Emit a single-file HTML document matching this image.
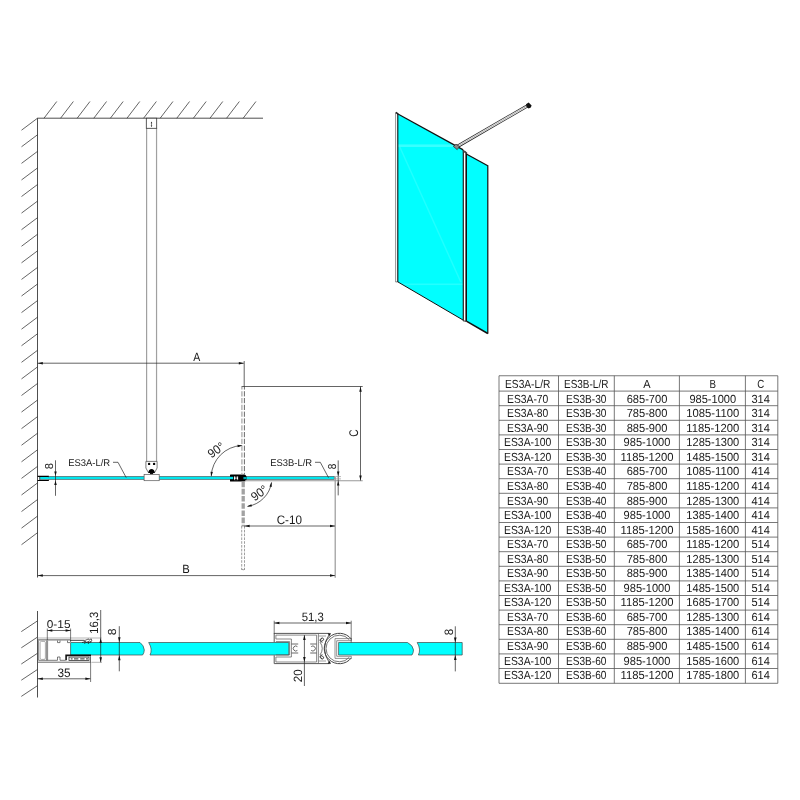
<!DOCTYPE html>
<html lang="en"><head><meta charset="utf-8"><title>ES3A / ES3B technical drawing</title>
<style>
html,body{margin:0;padding:0;background:#fff;}
body{width:800px;height:800px;overflow:hidden;}
svg{display:block;font-family:"Liberation Sans",sans-serif;will-change:transform;opacity:0.999;text-rendering:geometricPrecision;}
</style></head><body>
<svg width="800" height="800" viewBox="0 0 800 800">
<rect width="800" height="800" fill="#fff"/>
<g id="topview">
<line x1="37.50" y1="118.20" x2="263.00" y2="118.20" stroke="#222" stroke-width="0.8"/>
<line x1="37.50" y1="118.20" x2="37.50" y2="577.50" stroke="#222" stroke-width="0.8"/>
<line x1="44.00" y1="118.20" x2="56.75" y2="101.50" stroke="#222" stroke-width="0.7"/>
<line x1="60.60" y1="118.20" x2="73.35" y2="101.50" stroke="#222" stroke-width="0.7"/>
<line x1="77.20" y1="118.20" x2="89.95" y2="101.50" stroke="#222" stroke-width="0.7"/>
<line x1="93.80" y1="118.20" x2="106.55" y2="101.50" stroke="#222" stroke-width="0.7"/>
<line x1="110.40" y1="118.20" x2="123.15" y2="101.50" stroke="#222" stroke-width="0.7"/>
<line x1="127.00" y1="118.20" x2="139.75" y2="101.50" stroke="#222" stroke-width="0.7"/>
<line x1="143.60" y1="118.20" x2="156.35" y2="101.50" stroke="#222" stroke-width="0.7"/>
<line x1="160.20" y1="118.20" x2="172.95" y2="101.50" stroke="#222" stroke-width="0.7"/>
<line x1="176.80" y1="118.20" x2="189.55" y2="101.50" stroke="#222" stroke-width="0.7"/>
<line x1="193.40" y1="118.20" x2="206.15" y2="101.50" stroke="#222" stroke-width="0.7"/>
<line x1="210.00" y1="118.20" x2="222.75" y2="101.50" stroke="#222" stroke-width="0.7"/>
<line x1="226.60" y1="118.20" x2="239.35" y2="101.50" stroke="#222" stroke-width="0.7"/>
<line x1="243.20" y1="118.20" x2="255.95" y2="101.50" stroke="#222" stroke-width="0.7"/>
<line x1="37.50" y1="118.20" x2="21.50" y2="130.20" stroke="#222" stroke-width="0.7"/>
<line x1="37.50" y1="134.78" x2="21.50" y2="146.78" stroke="#222" stroke-width="0.7"/>
<line x1="37.50" y1="151.36" x2="21.50" y2="163.36" stroke="#222" stroke-width="0.7"/>
<line x1="37.50" y1="167.94" x2="21.50" y2="179.94" stroke="#222" stroke-width="0.7"/>
<line x1="37.50" y1="184.52" x2="21.50" y2="196.52" stroke="#222" stroke-width="0.7"/>
<line x1="37.50" y1="201.10" x2="21.50" y2="213.10" stroke="#222" stroke-width="0.7"/>
<line x1="37.50" y1="217.68" x2="21.50" y2="229.68" stroke="#222" stroke-width="0.7"/>
<line x1="37.50" y1="234.26" x2="21.50" y2="246.26" stroke="#222" stroke-width="0.7"/>
<line x1="37.50" y1="250.84" x2="21.50" y2="262.84" stroke="#222" stroke-width="0.7"/>
<line x1="37.50" y1="267.42" x2="21.50" y2="279.42" stroke="#222" stroke-width="0.7"/>
<line x1="37.50" y1="284.00" x2="21.50" y2="296.00" stroke="#222" stroke-width="0.7"/>
<line x1="37.50" y1="300.58" x2="21.50" y2="312.58" stroke="#222" stroke-width="0.7"/>
<line x1="37.50" y1="317.16" x2="21.50" y2="329.16" stroke="#222" stroke-width="0.7"/>
<line x1="37.50" y1="333.74" x2="21.50" y2="345.74" stroke="#222" stroke-width="0.7"/>
<line x1="37.50" y1="350.32" x2="21.50" y2="362.32" stroke="#222" stroke-width="0.7"/>
<line x1="37.50" y1="366.90" x2="21.50" y2="378.90" stroke="#222" stroke-width="0.7"/>
<line x1="37.50" y1="383.48" x2="21.50" y2="395.48" stroke="#222" stroke-width="0.7"/>
<line x1="37.50" y1="400.06" x2="21.50" y2="412.06" stroke="#222" stroke-width="0.7"/>
<line x1="37.50" y1="416.64" x2="21.50" y2="428.64" stroke="#222" stroke-width="0.7"/>
<line x1="37.50" y1="433.22" x2="21.50" y2="445.22" stroke="#222" stroke-width="0.7"/>
<line x1="37.50" y1="449.80" x2="21.50" y2="461.80" stroke="#222" stroke-width="0.7"/>
<line x1="37.50" y1="466.38" x2="21.50" y2="478.38" stroke="#222" stroke-width="0.7"/>
<line x1="37.50" y1="482.96" x2="21.50" y2="494.96" stroke="#222" stroke-width="0.7"/>
<line x1="37.50" y1="499.54" x2="21.50" y2="511.54" stroke="#222" stroke-width="0.7"/>
<line x1="37.50" y1="516.12" x2="21.50" y2="528.12" stroke="#222" stroke-width="0.7"/>
<line x1="37.50" y1="532.70" x2="21.50" y2="544.70" stroke="#222" stroke-width="0.7"/>
<line x1="146.60" y1="128.00" x2="146.60" y2="461.40" stroke="#a0a0a0" stroke-width="1.2"/>
<line x1="156.55" y1="128.00" x2="156.55" y2="461.40" stroke="#a0a0a0" stroke-width="1.2"/>
<rect x="146.3" y="118.2" width="10.4" height="10.1" fill="#fff" stroke="#333" stroke-width="0.8"/>
<line x1="151.50" y1="122.00" x2="151.50" y2="126.50" stroke="#333" stroke-width="0.6"/>
<polygon points="151.50,121.60 152.30,123.20 150.70,123.20" fill="#333"/>
<polygon points="151.50,127.00 150.70,125.40 152.30,125.40" fill="#333"/>
<path d="M145.9 461.4 H157.1 V468 L154.6 472.6 H148.4 L145.9 468 Z" fill="#fff" stroke="#444" stroke-width="0.7"/>
<circle cx="149.1" cy="463.9" r="1.2" fill="#000"/><circle cx="154.1" cy="463.9" r="1.2" fill="#000"/>
<path d="M148.3 472.9 C148.3 467.6 154.8 467.6 154.8 472.9 Z" fill="#000"/><rect x="150" y="472.6" width="3.1" height="1.6" fill="#111"/>
<rect x="39.5" y="476.45" width="194" height="2.9" fill="#00e6ee" stroke="#4a4a4a" stroke-width="0.6"/>
<rect x="243" y="476.45" width="91.2" height="2.9" fill="#00e6ee" stroke="#4a4a4a" stroke-width="0.6"/>
<path d="M37.6 475.85 H48.9 V477 H37.6 Z M37.6 479.9 H48.9 V481.05 H37.6 Z" fill="#000"/>
<path d="M39.9 477 V479.9 M48.6 476.6 V477.4 M48.6 479.6 V480.4" stroke="#555" stroke-width="0.7" fill="none"/>
<rect x="144.1" y="474.5" width="15.1" height="6.2" fill="#fff" stroke="#555" stroke-width="0.7"/>
<path d="M230.6 474.6 H244 Q246.6 474.6 246.6 478.1 Q246.6 481.6 244 481.6 H230.6 Q230 481.6 230 481 V475.2 Q230 474.6 230.6 474.6 Z" fill="#000"/>
<rect x="230" y="476.8" width="3.2" height="2.4" fill="#00e6ee"/>
<rect x="234" y="476.2" width="4.1" height="3.9" fill="#fff"/>
<path d="M234.6 476.7 H237.5 M234.6 479.6 H237.5 M236.05 476.7 V479.6" stroke="#000" stroke-width="0.9" fill="none"/>
<rect x="243.4" y="477" width="3.2" height="2.2" fill="#00a8b0"/>
<line x1="245.00" y1="480.80" x2="362.70" y2="480.80" stroke="#999" stroke-width="1.1"/>
<line x1="335.20" y1="477.00" x2="335.20" y2="577.70" stroke="#999" stroke-width="1.2"/>
<line x1="241.90" y1="387.00" x2="241.90" y2="474.50" stroke="#aaa" stroke-width="1.3" stroke-dasharray="5.2 1.6" stroke-dashoffset="2.6"/>
<line x1="244.40" y1="387.00" x2="244.40" y2="474.50" stroke="#444" stroke-width="0.8" stroke-dasharray="5.2 1.6" stroke-dashoffset="2.6"/>
<line x1="243.20" y1="481.60" x2="243.20" y2="526.50" stroke="#a2a2a2" stroke-width="3.3" stroke-dasharray="5.6 1.6"/>
<line x1="241.70" y1="526.00" x2="241.70" y2="570.00" stroke="#777" stroke-width="0.7" stroke-dasharray="2.6 1.2"/>
<line x1="244.50" y1="526.00" x2="244.50" y2="570.00" stroke="#777" stroke-width="0.7" stroke-dasharray="2.6 1.2"/>
<path d="M241.7 569 Q243.1 571 244.5 569" fill="none" stroke="#777" stroke-width="0.7"/>
<line x1="37.50" y1="363.20" x2="243.80" y2="363.20" stroke="#222" stroke-width="0.7"/>
<polygon points="243.80,363.20 238.80,364.45 238.80,361.95" fill="#111"/>
<polygon points="37.80,363.20 42.80,361.95 42.80,364.45" fill="#111"/>
<line x1="244.20" y1="361.00" x2="244.20" y2="387.00" stroke="#222" stroke-width="0.7"/>
<text x="193.23" y="360.50" font-size="11.85" textLength="7.04" lengthAdjust="spacingAndGlyphs" fill="#1a1a1a">A</text>
<line x1="241.50" y1="386.50" x2="362.70" y2="386.50" stroke="#222" stroke-width="0.7"/>
<line x1="360.50" y1="386.50" x2="360.50" y2="480.50" stroke="#222" stroke-width="0.7"/>
<polygon points="360.50,386.70 361.75,391.70 359.25,391.70" fill="#111"/>
<polygon points="360.50,480.50 359.25,475.50 361.75,475.50" fill="#111"/>
<text x="357.63" y="436.76" font-size="12.57" textLength="7.30" lengthAdjust="spacingAndGlyphs" fill="#1a1a1a" transform="rotate(-90 357.63 436.76)">C</text>
<line x1="37.50" y1="575.60" x2="335.00" y2="575.60" stroke="#222" stroke-width="0.7"/>
<polygon points="335.00,575.60 330.00,576.85 330.00,574.35" fill="#111"/>
<polygon points="37.80,575.60 42.80,574.35 42.80,576.85" fill="#111"/>
<text x="182.33" y="572.65" font-size="11.85" textLength="7.52" lengthAdjust="spacingAndGlyphs" fill="#1a1a1a">B</text>
<line x1="244.40" y1="526.00" x2="335.00" y2="526.00" stroke="#222" stroke-width="0.7"/>
<polygon points="244.60,526.00 249.60,524.75 249.60,527.25" fill="#111"/>
<polygon points="335.00,526.00 330.00,527.25 330.00,524.75" fill="#111"/>
<text x="276.66" y="523.88" font-size="12.36" textLength="25.30" lengthAdjust="spacingAndGlyphs" fill="#1a1a1a">C-10</text>
<line x1="55.50" y1="460.30" x2="55.50" y2="495.80" stroke="#222" stroke-width="0.7"/>
<polygon points="55.50,476.10 54.25,471.50 56.75,471.50" fill="#111"/>
<polygon points="55.50,480.40 56.75,485.00 54.25,485.00" fill="#111"/>
<text x="52.94" y="469.14" font-size="11.44" textLength="6.28" lengthAdjust="spacingAndGlyphs" fill="#1a1a1a" transform="rotate(-90 52.94 469.14)">8</text>
<line x1="338.20" y1="460.40" x2="338.20" y2="495.40" stroke="#222" stroke-width="0.7"/>
<polygon points="338.20,476.00 336.95,471.40 339.45,471.40" fill="#111"/>
<polygon points="338.20,481.00 339.45,485.60 336.95,485.60" fill="#111"/>
<line x1="334.50" y1="476.60" x2="341.00" y2="476.60" stroke="#888" stroke-width="0.6"/>
<line x1="334.50" y1="478.90" x2="341.00" y2="478.90" stroke="#888" stroke-width="0.6"/>
<text x="335.64" y="469.19" font-size="11.58" textLength="5.57" lengthAdjust="spacingAndGlyphs" fill="#1a1a1a" transform="rotate(-90 335.64 469.19)">8</text>
<text x="68.13" y="465.85" font-size="9.80" textLength="41.96" lengthAdjust="spacingAndGlyphs" fill="#1a1a1a">ES3A-L/R</text>
<polyline points="113,462.3 118,462.3 126.2,477.6" fill="none" stroke="#222" stroke-width="0.7"/>
<text x="270.28" y="465.65" font-size="9.80" textLength="41.91" lengthAdjust="spacingAndGlyphs" fill="#1a1a1a">ES3B-L/R</text>
<polyline points="315,462.3 320.3,462.3 328.5,477.6" fill="none" stroke="#222" stroke-width="0.7"/>
<path d="M211.24 475.83 A32 32 0 0 1 241.53 445.54" fill="none" stroke="#222" stroke-width="0.7"/>
<polygon points="211.21,476.66 210.55,471.77 212.84,472.00" fill="#111"/>
<polygon points="242.36,445.51 237.70,447.14 237.47,444.85" fill="#111"/>
<path d="M271.55 482.49 A28.7 28.7 0 0 1 247.69 506.35" fill="none" stroke="#222" stroke-width="0.7"/>
<polygon points="271.62,481.99 271.68,486.93 269.44,486.42" fill="#111"/>
<polygon points="246.95,506.45 251.39,504.31 251.88,506.56" fill="#111"/>
<text x="211.53" y="458.41" font-size="12.40" textLength="17.44" lengthAdjust="spacingAndGlyphs" fill="#1a1a1a" transform="rotate(-36 211.53 458.41)">90°</text>
<text x="254.73" y="501.61" font-size="12.40" textLength="17.44" lengthAdjust="spacingAndGlyphs" fill="#1a1a1a" transform="rotate(-36 254.73 501.61)">90°</text>
</g>
<g id="iso">
<polygon points="397.5,114 463,149.8 463,320 397.7,281.8" fill="#00ffff"/>
<polygon points="466.8,154.3 487.8,165.8 487.8,333.5 466.8,321.4" fill="#00ffff"/>
<clipPath id="cg1"><polygon points="397.5,114 463,149.8 463,320 397.7,281.8"/></clipPath>
<g clip-path="url(#cg1)"><rect x="397" y="144.4" width="60" height="2.6" fill="#fff" opacity="0.22"/><polygon points="399,147 400.6,147 461.6,282 460,282" fill="#fff" opacity="0.13"/><rect x="397" y="283.5" width="70" height="1.6" fill="#fff" opacity="0.14"/></g>
<rect x="395.5" y="112.6" width="2.1" height="169.3" fill="#fff"/>
<line x1="395.60" y1="112.60" x2="395.60" y2="281.90" stroke="#777" stroke-width="0.8"/>
<line x1="397.80" y1="113.50" x2="397.80" y2="281.90" stroke="#111" stroke-width="1.1"/>
<path d="M395.2 113 L396.6 111.8 L398.4 113.4 L397.6 114.4 Z" fill="#222"/>
<line x1="397.50" y1="113.80" x2="463.20" y2="149.90" stroke="#111" stroke-width="1.3"/>
<line x1="395.60" y1="281.90" x2="397.70" y2="281.90" stroke="#444" stroke-width="0.7"/>
<line x1="397.70" y1="281.80" x2="463.00" y2="320.00" stroke="#111" stroke-width="1.0"/>
<rect x="463" y="150.5" width="3.8" height="170.6" fill="#fff"/>
<line x1="463.30" y1="150.00" x2="463.30" y2="320.80" stroke="#222" stroke-width="1.2"/>
<line x1="466.20" y1="152.50" x2="466.20" y2="321.60" stroke="#111" stroke-width="1.6"/>
<line x1="463.00" y1="320.80" x2="466.80" y2="321.40" stroke="#222" stroke-width="0.9"/>
<path d="M462.8 150 L465.5 151 L467.2 152.8 L467.2 154 L463 152 Z" fill="#444"/>
<line x1="466.80" y1="154.30" x2="487.80" y2="165.80" stroke="#111" stroke-width="1.3"/>
<line x1="487.80" y1="165.30" x2="487.80" y2="333.80" stroke="#111" stroke-width="1.2"/>
<line x1="466.80" y1="321.40" x2="487.80" y2="333.50" stroke="#111" stroke-width="1.5"/>
<line x1="456.90" y1="146.70" x2="527.80" y2="105.60" stroke="#222" stroke-width="3.3"/>
<line x1="457.60" y1="146.30" x2="527.20" y2="105.95" stroke="#fff" stroke-width="1.9"/>
<line x1="457.60" y1="146.30" x2="527.20" y2="105.95" stroke="#555" stroke-width="0.45"/>
<path d="M453.4 146.4 L456 144.2 L459.6 146.6 L457.2 149.6 Z" fill="#8a8a8a" stroke="#222" stroke-width="0.7"/>
<path d="M526 104.2 L528.6 102.4 L531.6 105.4 L530.8 107.4 L528.6 108.4 L526.6 107 Z" fill="#111"/>
</g>
<g id="table">
<line x1="499.00" y1="375.75" x2="777.80" y2="375.75" stroke="#555" stroke-width="0.8"/>
<line x1="499.00" y1="391.10" x2="777.80" y2="391.10" stroke="#555" stroke-width="0.8"/>
<line x1="499.00" y1="405.70" x2="777.80" y2="405.70" stroke="#555" stroke-width="0.8"/>
<line x1="499.00" y1="420.30" x2="777.80" y2="420.30" stroke="#555" stroke-width="0.8"/>
<line x1="499.00" y1="434.90" x2="777.80" y2="434.90" stroke="#555" stroke-width="0.8"/>
<line x1="499.00" y1="449.50" x2="777.80" y2="449.50" stroke="#555" stroke-width="0.8"/>
<line x1="499.00" y1="464.10" x2="777.80" y2="464.10" stroke="#555" stroke-width="0.8"/>
<line x1="499.00" y1="478.70" x2="777.80" y2="478.70" stroke="#555" stroke-width="0.8"/>
<line x1="499.00" y1="493.30" x2="777.80" y2="493.30" stroke="#555" stroke-width="0.8"/>
<line x1="499.00" y1="507.90" x2="777.80" y2="507.90" stroke="#555" stroke-width="0.8"/>
<line x1="499.00" y1="522.50" x2="777.80" y2="522.50" stroke="#555" stroke-width="0.8"/>
<line x1="499.00" y1="537.10" x2="777.80" y2="537.10" stroke="#555" stroke-width="0.8"/>
<line x1="499.00" y1="551.70" x2="777.80" y2="551.70" stroke="#555" stroke-width="0.8"/>
<line x1="499.00" y1="566.30" x2="777.80" y2="566.30" stroke="#555" stroke-width="0.8"/>
<line x1="499.00" y1="580.90" x2="777.80" y2="580.90" stroke="#555" stroke-width="0.8"/>
<line x1="499.00" y1="595.50" x2="777.80" y2="595.50" stroke="#555" stroke-width="0.8"/>
<line x1="499.00" y1="610.10" x2="777.80" y2="610.10" stroke="#555" stroke-width="0.8"/>
<line x1="499.00" y1="624.70" x2="777.80" y2="624.70" stroke="#555" stroke-width="0.8"/>
<line x1="499.00" y1="639.30" x2="777.80" y2="639.30" stroke="#555" stroke-width="0.8"/>
<line x1="499.00" y1="653.90" x2="777.80" y2="653.90" stroke="#555" stroke-width="0.8"/>
<line x1="499.00" y1="668.50" x2="777.80" y2="668.50" stroke="#555" stroke-width="0.8"/>
<line x1="499.00" y1="683.30" x2="777.80" y2="683.30" stroke="#555" stroke-width="0.8"/>
<line x1="499.00" y1="375.75" x2="499.00" y2="683.30" stroke="#555" stroke-width="0.8"/>
<line x1="558.50" y1="375.75" x2="558.50" y2="683.30" stroke="#555" stroke-width="0.8"/>
<line x1="614.30" y1="375.75" x2="614.30" y2="683.30" stroke="#555" stroke-width="0.8"/>
<line x1="679.40" y1="375.75" x2="679.40" y2="683.30" stroke="#555" stroke-width="0.8"/>
<line x1="745.40" y1="375.75" x2="745.40" y2="683.30" stroke="#555" stroke-width="0.8"/>
<line x1="777.80" y1="375.75" x2="777.80" y2="683.30" stroke="#555" stroke-width="0.8"/>
<text x="527.70" y="388.20" font-size="11.76" text-anchor="middle" textLength="45.24" lengthAdjust="spacingAndGlyphs" fill="#1a1a1a">ES3A-L/R</text>
<text x="586.20" y="388.20" font-size="11.76" text-anchor="middle" textLength="44.40" lengthAdjust="spacingAndGlyphs" fill="#1a1a1a">ES3B-L/R</text>
<text x="647.00" y="388.20" font-size="11.76" text-anchor="middle" textLength="7.34" lengthAdjust="spacingAndGlyphs" fill="#1a1a1a">A</text>
<text x="712.80" y="388.20" font-size="11.76" text-anchor="middle" textLength="6.50" lengthAdjust="spacingAndGlyphs" fill="#1a1a1a">B</text>
<text x="760.70" y="388.20" font-size="11.76" text-anchor="middle" textLength="6.96" lengthAdjust="spacingAndGlyphs" fill="#1a1a1a">C</text>
<text x="527.70" y="402.65" font-size="11.76" text-anchor="middle" textLength="41.32" lengthAdjust="spacingAndGlyphs" fill="#1a1a1a">ES3A-70</text>
<text x="586.20" y="402.65" font-size="11.76" text-anchor="middle" textLength="40.48" lengthAdjust="spacingAndGlyphs" fill="#1a1a1a">ES3B-30</text>
<text x="647.00" y="402.65" font-size="11.76" text-anchor="middle" textLength="40.62" lengthAdjust="spacingAndGlyphs" fill="#1a1a1a">685-700</text>
<text x="712.80" y="402.65" font-size="11.76" text-anchor="middle" textLength="46.78" lengthAdjust="spacingAndGlyphs" fill="#1a1a1a">985-1000</text>
<text x="760.70" y="402.65" font-size="11.76" text-anchor="middle" textLength="18.47" lengthAdjust="spacingAndGlyphs" fill="#1a1a1a">314</text>
<text x="527.70" y="417.20" font-size="11.76" text-anchor="middle" textLength="41.32" lengthAdjust="spacingAndGlyphs" fill="#1a1a1a">ES3A-80</text>
<text x="586.20" y="417.20" font-size="11.76" text-anchor="middle" textLength="40.48" lengthAdjust="spacingAndGlyphs" fill="#1a1a1a">ES3B-30</text>
<text x="647.00" y="417.20" font-size="11.76" text-anchor="middle" textLength="40.62" lengthAdjust="spacingAndGlyphs" fill="#1a1a1a">785-800</text>
<text x="712.80" y="417.20" font-size="11.76" text-anchor="middle" textLength="52.93" lengthAdjust="spacingAndGlyphs" fill="#1a1a1a">1085-1100</text>
<text x="760.70" y="417.20" font-size="11.76" text-anchor="middle" textLength="18.47" lengthAdjust="spacingAndGlyphs" fill="#1a1a1a">314</text>
<text x="527.70" y="431.75" font-size="11.76" text-anchor="middle" textLength="41.32" lengthAdjust="spacingAndGlyphs" fill="#1a1a1a">ES3A-90</text>
<text x="586.20" y="431.75" font-size="11.76" text-anchor="middle" textLength="40.48" lengthAdjust="spacingAndGlyphs" fill="#1a1a1a">ES3B-30</text>
<text x="647.00" y="431.75" font-size="11.76" text-anchor="middle" textLength="40.62" lengthAdjust="spacingAndGlyphs" fill="#1a1a1a">885-900</text>
<text x="712.80" y="431.75" font-size="11.76" text-anchor="middle" textLength="52.93" lengthAdjust="spacingAndGlyphs" fill="#1a1a1a">1185-1200</text>
<text x="760.70" y="431.75" font-size="11.76" text-anchor="middle" textLength="18.47" lengthAdjust="spacingAndGlyphs" fill="#1a1a1a">314</text>
<text x="527.70" y="446.30" font-size="11.76" text-anchor="middle" textLength="47.47" lengthAdjust="spacingAndGlyphs" fill="#1a1a1a">ES3A-100</text>
<text x="586.20" y="446.30" font-size="11.76" text-anchor="middle" textLength="40.48" lengthAdjust="spacingAndGlyphs" fill="#1a1a1a">ES3B-30</text>
<text x="647.00" y="446.30" font-size="11.76" text-anchor="middle" textLength="46.78" lengthAdjust="spacingAndGlyphs" fill="#1a1a1a">985-1000</text>
<text x="712.80" y="446.30" font-size="11.76" text-anchor="middle" textLength="52.93" lengthAdjust="spacingAndGlyphs" fill="#1a1a1a">1285-1300</text>
<text x="760.70" y="446.30" font-size="11.76" text-anchor="middle" textLength="18.47" lengthAdjust="spacingAndGlyphs" fill="#1a1a1a">314</text>
<text x="527.70" y="460.85" font-size="11.76" text-anchor="middle" textLength="47.47" lengthAdjust="spacingAndGlyphs" fill="#1a1a1a">ES3A-120</text>
<text x="586.20" y="460.85" font-size="11.76" text-anchor="middle" textLength="40.48" lengthAdjust="spacingAndGlyphs" fill="#1a1a1a">ES3B-30</text>
<text x="647.00" y="460.85" font-size="11.76" text-anchor="middle" textLength="52.93" lengthAdjust="spacingAndGlyphs" fill="#1a1a1a">1185-1200</text>
<text x="712.80" y="460.85" font-size="11.76" text-anchor="middle" textLength="52.93" lengthAdjust="spacingAndGlyphs" fill="#1a1a1a">1485-1500</text>
<text x="760.70" y="460.85" font-size="11.76" text-anchor="middle" textLength="18.47" lengthAdjust="spacingAndGlyphs" fill="#1a1a1a">314</text>
<text x="527.70" y="475.40" font-size="11.76" text-anchor="middle" textLength="41.32" lengthAdjust="spacingAndGlyphs" fill="#1a1a1a">ES3A-70</text>
<text x="586.20" y="475.40" font-size="11.76" text-anchor="middle" textLength="40.48" lengthAdjust="spacingAndGlyphs" fill="#1a1a1a">ES3B-40</text>
<text x="647.00" y="475.40" font-size="11.76" text-anchor="middle" textLength="40.62" lengthAdjust="spacingAndGlyphs" fill="#1a1a1a">685-700</text>
<text x="712.80" y="475.40" font-size="11.76" text-anchor="middle" textLength="52.93" lengthAdjust="spacingAndGlyphs" fill="#1a1a1a">1085-1100</text>
<text x="760.70" y="475.40" font-size="11.76" text-anchor="middle" textLength="18.47" lengthAdjust="spacingAndGlyphs" fill="#1a1a1a">414</text>
<text x="527.70" y="489.95" font-size="11.76" text-anchor="middle" textLength="41.32" lengthAdjust="spacingAndGlyphs" fill="#1a1a1a">ES3A-80</text>
<text x="586.20" y="489.95" font-size="11.76" text-anchor="middle" textLength="40.48" lengthAdjust="spacingAndGlyphs" fill="#1a1a1a">ES3B-40</text>
<text x="647.00" y="489.95" font-size="11.76" text-anchor="middle" textLength="40.62" lengthAdjust="spacingAndGlyphs" fill="#1a1a1a">785-800</text>
<text x="712.80" y="489.95" font-size="11.76" text-anchor="middle" textLength="52.93" lengthAdjust="spacingAndGlyphs" fill="#1a1a1a">1185-1200</text>
<text x="760.70" y="489.95" font-size="11.76" text-anchor="middle" textLength="18.47" lengthAdjust="spacingAndGlyphs" fill="#1a1a1a">414</text>
<text x="527.70" y="504.50" font-size="11.76" text-anchor="middle" textLength="41.32" lengthAdjust="spacingAndGlyphs" fill="#1a1a1a">ES3A-90</text>
<text x="586.20" y="504.50" font-size="11.76" text-anchor="middle" textLength="40.48" lengthAdjust="spacingAndGlyphs" fill="#1a1a1a">ES3B-40</text>
<text x="647.00" y="504.50" font-size="11.76" text-anchor="middle" textLength="40.62" lengthAdjust="spacingAndGlyphs" fill="#1a1a1a">885-900</text>
<text x="712.80" y="504.50" font-size="11.76" text-anchor="middle" textLength="52.93" lengthAdjust="spacingAndGlyphs" fill="#1a1a1a">1285-1300</text>
<text x="760.70" y="504.50" font-size="11.76" text-anchor="middle" textLength="18.47" lengthAdjust="spacingAndGlyphs" fill="#1a1a1a">414</text>
<text x="527.70" y="519.05" font-size="11.76" text-anchor="middle" textLength="47.47" lengthAdjust="spacingAndGlyphs" fill="#1a1a1a">ES3A-100</text>
<text x="586.20" y="519.05" font-size="11.76" text-anchor="middle" textLength="40.48" lengthAdjust="spacingAndGlyphs" fill="#1a1a1a">ES3B-40</text>
<text x="647.00" y="519.05" font-size="11.76" text-anchor="middle" textLength="46.78" lengthAdjust="spacingAndGlyphs" fill="#1a1a1a">985-1000</text>
<text x="712.80" y="519.05" font-size="11.76" text-anchor="middle" textLength="52.93" lengthAdjust="spacingAndGlyphs" fill="#1a1a1a">1385-1400</text>
<text x="760.70" y="519.05" font-size="11.76" text-anchor="middle" textLength="18.47" lengthAdjust="spacingAndGlyphs" fill="#1a1a1a">414</text>
<text x="527.70" y="533.60" font-size="11.76" text-anchor="middle" textLength="47.47" lengthAdjust="spacingAndGlyphs" fill="#1a1a1a">ES3A-120</text>
<text x="586.20" y="533.60" font-size="11.76" text-anchor="middle" textLength="40.48" lengthAdjust="spacingAndGlyphs" fill="#1a1a1a">ES3B-40</text>
<text x="647.00" y="533.60" font-size="11.76" text-anchor="middle" textLength="52.93" lengthAdjust="spacingAndGlyphs" fill="#1a1a1a">1185-1200</text>
<text x="712.80" y="533.60" font-size="11.76" text-anchor="middle" textLength="52.93" lengthAdjust="spacingAndGlyphs" fill="#1a1a1a">1585-1600</text>
<text x="760.70" y="533.60" font-size="11.76" text-anchor="middle" textLength="18.47" lengthAdjust="spacingAndGlyphs" fill="#1a1a1a">414</text>
<text x="527.70" y="548.15" font-size="11.76" text-anchor="middle" textLength="41.32" lengthAdjust="spacingAndGlyphs" fill="#1a1a1a">ES3A-70</text>
<text x="586.20" y="548.15" font-size="11.76" text-anchor="middle" textLength="40.48" lengthAdjust="spacingAndGlyphs" fill="#1a1a1a">ES3B-50</text>
<text x="647.00" y="548.15" font-size="11.76" text-anchor="middle" textLength="40.62" lengthAdjust="spacingAndGlyphs" fill="#1a1a1a">685-700</text>
<text x="712.80" y="548.15" font-size="11.76" text-anchor="middle" textLength="52.93" lengthAdjust="spacingAndGlyphs" fill="#1a1a1a">1185-1200</text>
<text x="760.70" y="548.15" font-size="11.76" text-anchor="middle" textLength="18.47" lengthAdjust="spacingAndGlyphs" fill="#1a1a1a">514</text>
<text x="527.70" y="562.70" font-size="11.76" text-anchor="middle" textLength="41.32" lengthAdjust="spacingAndGlyphs" fill="#1a1a1a">ES3A-80</text>
<text x="586.20" y="562.70" font-size="11.76" text-anchor="middle" textLength="40.48" lengthAdjust="spacingAndGlyphs" fill="#1a1a1a">ES3B-50</text>
<text x="647.00" y="562.70" font-size="11.76" text-anchor="middle" textLength="40.62" lengthAdjust="spacingAndGlyphs" fill="#1a1a1a">785-800</text>
<text x="712.80" y="562.70" font-size="11.76" text-anchor="middle" textLength="52.93" lengthAdjust="spacingAndGlyphs" fill="#1a1a1a">1285-1300</text>
<text x="760.70" y="562.70" font-size="11.76" text-anchor="middle" textLength="18.47" lengthAdjust="spacingAndGlyphs" fill="#1a1a1a">514</text>
<text x="527.70" y="577.25" font-size="11.76" text-anchor="middle" textLength="41.32" lengthAdjust="spacingAndGlyphs" fill="#1a1a1a">ES3A-90</text>
<text x="586.20" y="577.25" font-size="11.76" text-anchor="middle" textLength="40.48" lengthAdjust="spacingAndGlyphs" fill="#1a1a1a">ES3B-50</text>
<text x="647.00" y="577.25" font-size="11.76" text-anchor="middle" textLength="40.62" lengthAdjust="spacingAndGlyphs" fill="#1a1a1a">885-900</text>
<text x="712.80" y="577.25" font-size="11.76" text-anchor="middle" textLength="52.93" lengthAdjust="spacingAndGlyphs" fill="#1a1a1a">1385-1400</text>
<text x="760.70" y="577.25" font-size="11.76" text-anchor="middle" textLength="18.47" lengthAdjust="spacingAndGlyphs" fill="#1a1a1a">514</text>
<text x="527.70" y="591.80" font-size="11.76" text-anchor="middle" textLength="47.47" lengthAdjust="spacingAndGlyphs" fill="#1a1a1a">ES3A-100</text>
<text x="586.20" y="591.80" font-size="11.76" text-anchor="middle" textLength="40.48" lengthAdjust="spacingAndGlyphs" fill="#1a1a1a">ES3B-50</text>
<text x="647.00" y="591.80" font-size="11.76" text-anchor="middle" textLength="46.78" lengthAdjust="spacingAndGlyphs" fill="#1a1a1a">985-1000</text>
<text x="712.80" y="591.80" font-size="11.76" text-anchor="middle" textLength="52.93" lengthAdjust="spacingAndGlyphs" fill="#1a1a1a">1485-1500</text>
<text x="760.70" y="591.80" font-size="11.76" text-anchor="middle" textLength="18.47" lengthAdjust="spacingAndGlyphs" fill="#1a1a1a">514</text>
<text x="527.70" y="606.35" font-size="11.76" text-anchor="middle" textLength="47.47" lengthAdjust="spacingAndGlyphs" fill="#1a1a1a">ES3A-120</text>
<text x="586.20" y="606.35" font-size="11.76" text-anchor="middle" textLength="40.48" lengthAdjust="spacingAndGlyphs" fill="#1a1a1a">ES3B-50</text>
<text x="647.00" y="606.35" font-size="11.76" text-anchor="middle" textLength="52.93" lengthAdjust="spacingAndGlyphs" fill="#1a1a1a">1185-1200</text>
<text x="712.80" y="606.35" font-size="11.76" text-anchor="middle" textLength="52.93" lengthAdjust="spacingAndGlyphs" fill="#1a1a1a">1685-1700</text>
<text x="760.70" y="606.35" font-size="11.76" text-anchor="middle" textLength="18.47" lengthAdjust="spacingAndGlyphs" fill="#1a1a1a">514</text>
<text x="527.70" y="620.90" font-size="11.76" text-anchor="middle" textLength="41.32" lengthAdjust="spacingAndGlyphs" fill="#1a1a1a">ES3A-70</text>
<text x="586.20" y="620.90" font-size="11.76" text-anchor="middle" textLength="40.48" lengthAdjust="spacingAndGlyphs" fill="#1a1a1a">ES3B-60</text>
<text x="647.00" y="620.90" font-size="11.76" text-anchor="middle" textLength="40.62" lengthAdjust="spacingAndGlyphs" fill="#1a1a1a">685-700</text>
<text x="712.80" y="620.90" font-size="11.76" text-anchor="middle" textLength="52.93" lengthAdjust="spacingAndGlyphs" fill="#1a1a1a">1285-1300</text>
<text x="760.70" y="620.90" font-size="11.76" text-anchor="middle" textLength="18.47" lengthAdjust="spacingAndGlyphs" fill="#1a1a1a">614</text>
<text x="527.70" y="635.45" font-size="11.76" text-anchor="middle" textLength="41.32" lengthAdjust="spacingAndGlyphs" fill="#1a1a1a">ES3A-80</text>
<text x="586.20" y="635.45" font-size="11.76" text-anchor="middle" textLength="40.48" lengthAdjust="spacingAndGlyphs" fill="#1a1a1a">ES3B-60</text>
<text x="647.00" y="635.45" font-size="11.76" text-anchor="middle" textLength="40.62" lengthAdjust="spacingAndGlyphs" fill="#1a1a1a">785-800</text>
<text x="712.80" y="635.45" font-size="11.76" text-anchor="middle" textLength="52.93" lengthAdjust="spacingAndGlyphs" fill="#1a1a1a">1385-1400</text>
<text x="760.70" y="635.45" font-size="11.76" text-anchor="middle" textLength="18.47" lengthAdjust="spacingAndGlyphs" fill="#1a1a1a">614</text>
<text x="527.70" y="650.00" font-size="11.76" text-anchor="middle" textLength="41.32" lengthAdjust="spacingAndGlyphs" fill="#1a1a1a">ES3A-90</text>
<text x="586.20" y="650.00" font-size="11.76" text-anchor="middle" textLength="40.48" lengthAdjust="spacingAndGlyphs" fill="#1a1a1a">ES3B-60</text>
<text x="647.00" y="650.00" font-size="11.76" text-anchor="middle" textLength="40.62" lengthAdjust="spacingAndGlyphs" fill="#1a1a1a">885-900</text>
<text x="712.80" y="650.00" font-size="11.76" text-anchor="middle" textLength="52.93" lengthAdjust="spacingAndGlyphs" fill="#1a1a1a">1485-1500</text>
<text x="760.70" y="650.00" font-size="11.76" text-anchor="middle" textLength="18.47" lengthAdjust="spacingAndGlyphs" fill="#1a1a1a">614</text>
<text x="527.70" y="664.55" font-size="11.76" text-anchor="middle" textLength="47.47" lengthAdjust="spacingAndGlyphs" fill="#1a1a1a">ES3A-100</text>
<text x="586.20" y="664.55" font-size="11.76" text-anchor="middle" textLength="40.48" lengthAdjust="spacingAndGlyphs" fill="#1a1a1a">ES3B-60</text>
<text x="647.00" y="664.55" font-size="11.76" text-anchor="middle" textLength="46.78" lengthAdjust="spacingAndGlyphs" fill="#1a1a1a">985-1000</text>
<text x="712.80" y="664.55" font-size="11.76" text-anchor="middle" textLength="52.93" lengthAdjust="spacingAndGlyphs" fill="#1a1a1a">1585-1600</text>
<text x="760.70" y="664.55" font-size="11.76" text-anchor="middle" textLength="18.47" lengthAdjust="spacingAndGlyphs" fill="#1a1a1a">614</text>
<text x="527.70" y="679.10" font-size="11.76" text-anchor="middle" textLength="47.47" lengthAdjust="spacingAndGlyphs" fill="#1a1a1a">ES3A-120</text>
<text x="586.20" y="679.10" font-size="11.76" text-anchor="middle" textLength="40.48" lengthAdjust="spacingAndGlyphs" fill="#1a1a1a">ES3B-60</text>
<text x="647.00" y="679.10" font-size="11.76" text-anchor="middle" textLength="52.93" lengthAdjust="spacingAndGlyphs" fill="#1a1a1a">1185-1200</text>
<text x="712.80" y="679.10" font-size="11.76" text-anchor="middle" textLength="52.93" lengthAdjust="spacingAndGlyphs" fill="#1a1a1a">1785-1800</text>
<text x="760.70" y="679.10" font-size="11.76" text-anchor="middle" textLength="18.47" lengthAdjust="spacingAndGlyphs" fill="#1a1a1a">614</text>
</g>
<g id="section">
<line x1="37.50" y1="611.00" x2="37.50" y2="697.50" stroke="#222" stroke-width="0.8"/>
<line x1="37.30" y1="621.00" x2="21.30" y2="631.60" stroke="#222" stroke-width="0.7"/>
<line x1="37.30" y1="637.20" x2="21.30" y2="647.80" stroke="#222" stroke-width="0.7"/>
<line x1="37.30" y1="653.40" x2="21.30" y2="664.00" stroke="#222" stroke-width="0.7"/>
<line x1="37.30" y1="669.60" x2="21.30" y2="680.20" stroke="#222" stroke-width="0.7"/>
<line x1="37.30" y1="685.80" x2="21.30" y2="696.40" stroke="#222" stroke-width="0.7"/>
<path d="M70.6 642.5 H140 Q144 645.5 144.3 650 Q144.2 652.8 142.6 655 H70.6 Z" fill="#00ffff" stroke="#444" stroke-width="0.7"/>
<path d="M148.7 642.5 H288.8 V655 H150 Q152.9 649.5 148.7 642.5 Z" fill="#00ffff" stroke="#444" stroke-width="0.7"/>
<path d="M338.6 642.5 H407.5 Q413.2 645.5 413.5 650 Q413.4 652.8 412 655 H338.6 Z" fill="#00ffff" stroke="#444" stroke-width="0.7"/>
<path d="M417.2 642.5 H462.2 V655 H418.4 Q421.2 649.5 417.2 642.5 Z" fill="#00ffff" stroke="#444" stroke-width="0.7"/>
<line x1="37.50" y1="638.00" x2="101.50" y2="638.00" stroke="#9a9a9a" stroke-width="0.7"/>
<path d="M37.5 639.9 H70" fill="none" stroke="#585858" stroke-width="1.0"/>
<path d="M37.5 662.2 H90.5 V656.4" fill="none" stroke="#585858" stroke-width="0.9"/>
<path d="M38.5 660.3 H57.5 V657 H60 V660.3 H65.6" fill="none" stroke="#585858" stroke-width="0.8"/>
<path d="M57.5 640.5 V642.6 H60 V640.5 M67.5 640.5 V642.6 H70" fill="none" stroke="#585858" stroke-width="0.8"/>
<path d="M38.6 640.5 V660.3 M46.6 640.5 V660.3 M47.6 640.5 V660.3" fill="none" stroke="#585858" stroke-width="0.7"/>
<rect x="40.1" y="641.4" width="5.3" height="18" rx="1.3" fill="none" stroke="#8a8a8a" stroke-width="0.7"/>
<path d="M65.3 654.6 H91 V656.3 H66.9 V660.3 H65.3 Z" fill="#111"/>
<rect x="69" y="657.1" width="20" height="3.3" fill="#fff" stroke="#333" stroke-width="0.8"/>
<path d="M70.8 658.8 H72.6 M74 658.8 H78.4 M80.2 658.8 H84.6 M86 658.8 H88" stroke="#555" stroke-width="1.2" fill="none"/>
<path d="M70 640.3 H84.5" stroke="#222" stroke-width="0.9" fill="none"/>
<path d="M84.5 640.6 L88.6 638.9 L89.2 640.2 L91.2 638.8 L91.9 640.6 L89.6 642.2 H85.2 Z" fill="#fff" stroke="#222" stroke-width="0.7"/>
<path d="M82 642.6 L85.4 641.6 L84.6 643.8 M85.8 642.8 L89 641.6 L88.2 644 M89.4 642.6 L91.6 641.8" fill="none" stroke="#222" stroke-width="0.8"/>
<line x1="47.30" y1="628.50" x2="47.30" y2="640.00" stroke="#222" stroke-width="0.6"/>
<line x1="70.60" y1="628.50" x2="70.60" y2="642.00" stroke="#222" stroke-width="0.6"/>
<line x1="47.30" y1="630.50" x2="70.60" y2="630.50" stroke="#222" stroke-width="0.7"/>
<polygon points="47.30,630.50 52.30,629.25 52.30,631.75" fill="#111"/>
<polygon points="70.60,630.50 65.60,631.75 65.60,629.25" fill="#111"/>
<text x="46.79" y="627.64" font-size="11.30" textLength="23.71" lengthAdjust="spacingAndGlyphs" fill="#1a1a1a">0-15</text>
<line x1="91.50" y1="662.30" x2="102.00" y2="662.30" stroke="#888" stroke-width="0.6"/>
<line x1="100.70" y1="610.00" x2="100.70" y2="662.30" stroke="#222" stroke-width="0.7"/>
<polygon points="100.70,638.00 101.95,643.00 99.45,643.00" fill="#111"/>
<polygon points="100.70,662.30 99.45,657.30 101.95,657.30" fill="#111"/>
<text x="97.63" y="633.87" font-size="12.01" textLength="22.11" lengthAdjust="spacingAndGlyphs" fill="#1a1a1a" transform="rotate(-90 97.63 633.87)">16,3</text>
<line x1="90.60" y1="662.00" x2="90.60" y2="682.00" stroke="#222" stroke-width="0.6"/>
<line x1="37.50" y1="678.80" x2="90.40" y2="678.80" stroke="#222" stroke-width="0.7"/>
<polygon points="37.80,678.80 42.80,677.55 42.80,680.05" fill="#111"/>
<polygon points="90.40,678.80 85.40,680.05 85.40,677.55" fill="#111"/>
<text x="57.40" y="676.63" font-size="12.29" textLength="13.09" lengthAdjust="spacingAndGlyphs" fill="#1a1a1a">35</text>
<line x1="119.30" y1="626.20" x2="119.30" y2="671.30" stroke="#222" stroke-width="0.7"/>
<polygon points="119.30,642.30 118.05,637.30 120.55,637.30" fill="#111"/>
<polygon points="119.30,655.20 120.55,660.20 118.05,660.20" fill="#111"/>
<text x="116.39" y="635.28" font-size="11.65" textLength="6.82" lengthAdjust="spacingAndGlyphs" fill="#1a1a1a" transform="rotate(-90 116.39 635.28)">8</text>
<path d="M329.5 633.4 H274.2 V642.2 M274.2 655.3 V663.6 H329.5" fill="none" stroke="#585858" stroke-width="1.0"/>
<path d="M316.6 635.1 H275.9 V639 M275.9 657 V662 H316.6" fill="none" stroke="#585858" stroke-width="0.7"/>
<path d="M275.9 639 H291.4 V657 H275.9 M275.9 641.6 H289.6 V654.9 H275.9" fill="none" stroke="#585858" stroke-width="0.7"/>
<path d="M291.4 644 H298.2 M291.4 653 H298.2 M297.4 646.6 A2.5 2.5 0 1 0 297.4 650.4" fill="none" stroke="#5a5a5a" stroke-width="0.9"/>
<path d="M316.6 644 H310.2 M316.6 653 H310.2 M311.2 646.6 A2.5 2.5 0 1 1 311.2 650.4" fill="none" stroke="#5a5a5a" stroke-width="0.9"/>
<line x1="316.60" y1="635.10" x2="316.60" y2="662.00" stroke="#585858" stroke-width="0.7"/>
<line x1="318.40" y1="633.60" x2="318.40" y2="663.40" stroke="#585858" stroke-width="0.7"/>
<path d="M318.4 636 H326 M318.4 661 H326" stroke="#777" stroke-width="0.7" fill="none"/>
<ellipse cx="321.8" cy="639.8" rx="2.0" ry="1.3" fill="none" stroke="#222" stroke-width="0.8" transform="rotate(-35 321.8 639.8)"/>
<ellipse cx="321.8" cy="657.2" rx="2.0" ry="1.3" fill="none" stroke="#222" stroke-width="0.8" transform="rotate(35 321.8 657.2)"/>
<path d="M320 642 Q324.5 648.5 320 655 M322 637.5 Q319 640 322.5 643 M322 659.5 Q319 657 322.5 654" fill="none" stroke="#444" stroke-width="0.7"/>
<path d="M329.5 634 Q319.5 648.5 329.5 663" fill="none" stroke="#444" stroke-width="0.9"/>
<path d="M327.6 633.6 L331 633.2 L329.6 636 Z M327.6 663.4 L331 663.8 L329.6 661 Z" fill="#111"/>
<path d="M351.3 639 A15.2 15.2 0 1 0 351.3 658" fill="none" stroke="#444" stroke-width="1.0"/>
<path d="M349.2 639.6 A13.3 13.3 0 1 0 349.2 657.4" fill="none" stroke="#555" stroke-width="0.8"/>
<path d="M351.3 638.6 H335 V658.4 H351.3 M351.3 640.7 H336.7 V656.3 H351.3" fill="none" stroke="#666" stroke-width="0.7"/>
<line x1="351.30" y1="638.60" x2="351.30" y2="640.70" stroke="#666" stroke-width="0.7"/>
<line x1="351.30" y1="656.30" x2="351.30" y2="658.40" stroke="#666" stroke-width="0.7"/>
<line x1="274.20" y1="620.70" x2="274.20" y2="634.00" stroke="#222" stroke-width="0.6"/>
<line x1="351.20" y1="620.70" x2="351.20" y2="642.50" stroke="#222" stroke-width="0.6"/>
<line x1="274.20" y1="623.00" x2="351.20" y2="623.00" stroke="#222" stroke-width="0.7"/>
<polygon points="274.40,623.00 279.40,621.75 279.40,624.25" fill="#111"/>
<polygon points="351.00,623.00 346.00,624.25 346.00,621.75" fill="#111"/>
<text x="301.70" y="620.63" font-size="12.15" textLength="22.05" lengthAdjust="spacingAndGlyphs" fill="#1a1a1a">51,3</text>
<line x1="304.40" y1="635.10" x2="304.40" y2="686.00" stroke="#222" stroke-width="0.7"/>
<polygon points="304.40,635.10 305.65,640.10 303.15,640.10" fill="#111"/>
<polygon points="304.40,662.10 303.15,657.10 305.65,657.10" fill="#111"/>
<text x="302.33" y="682.23" font-size="12.01" textLength="12.83" lengthAdjust="spacingAndGlyphs" fill="#1a1a1a" transform="rotate(-90 302.33 682.23)">20</text>
<line x1="455.30" y1="626.30" x2="455.30" y2="671.40" stroke="#222" stroke-width="0.7"/>
<polygon points="455.30,642.40 454.00,637.40 456.60,637.40" fill="#111"/>
<polygon points="455.30,655.10 456.60,660.10 454.00,660.10" fill="#111"/>
<text x="452.73" y="635.25" font-size="12.15" textLength="6.40" lengthAdjust="spacingAndGlyphs" fill="#1a1a1a" transform="rotate(-90 452.73 635.25)">8</text>
</g>
</svg>
</body></html>
